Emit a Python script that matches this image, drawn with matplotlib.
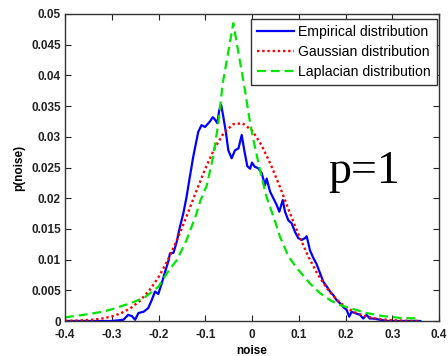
import matplotlib
matplotlib.use("Agg")
import matplotlib.pyplot as plt
import numpy as np

# Empirical noise distribution (histogram trace)
emp_x = [-0.40, -0.30, -0.275, -0.265, -0.257, -0.250, -0.243, -0.232, -0.222,
         -0.2145, -0.2075, -0.2004, -0.1932, -0.186, -0.179, -0.1755, -0.168,
         -0.161, -0.154, -0.147, -0.140, -0.134, -0.1256, -0.115, -0.108,
         -0.1005, -0.090, -0.084, -0.079, -0.074, -0.070, -0.066, -0.0614,
         -0.0556, -0.0507, -0.0435, -0.0364, -0.029, -0.022, -0.017, -0.010,
         -0.004, 0.000, 0.006, 0.013, 0.0207, 0.0278, 0.0314, 0.0385, 0.0456,
         0.0528, 0.0584, 0.0657, 0.0706, 0.0777, 0.0849, 0.092, 0.099, 0.1063,
         0.1134, 0.117, 0.124, 0.131, 0.138, 0.1455, 0.1525, 0.160, 0.167,
         0.174, 0.181, 0.188, 0.195, 0.2026, 0.208, 0.213, 0.220, 0.231, 0.238,
         0.245, 0.252, 0.259, 0.274, 0.29, 0.36]
emp_p = [0.0, 0.0, 0.0002, 0.0010, 0.0008, 0.0002, 0.0013, 0.0015, 0.0021,
         0.0034, 0.0048, 0.0044, 0.0061, 0.0080, 0.0097, 0.0110, 0.0111,
         0.0129, 0.0154, 0.0175, 0.0202, 0.0230, 0.0268, 0.0308, 0.0319,
         0.0316, 0.0325, 0.0332, 0.0328, 0.0322, 0.0344, 0.0352, 0.0333,
         0.0306, 0.0278, 0.0265, 0.0278, 0.0281, 0.0303, 0.0280, 0.0252,
         0.0248, 0.0258, 0.0251, 0.0249, 0.0241, 0.0221, 0.0232, 0.0211, 0.0200,
         0.0189, 0.0178, 0.0197, 0.0178, 0.0164, 0.0159, 0.0145, 0.0135, 0.0132,
         0.0135, 0.0138, 0.0115, 0.0103, 0.0093, 0.0078, 0.0064, 0.0056, 0.0048,
         0.0042, 0.0034, 0.0029, 0.0023, 0.0018, 0.0007, 0.0015, 0.0013, 0.0010, 0.0004,
         0.0010, 0.0004, 0.0004, 0.0002, 0.0, 0.0]

# Fitted Gaussian
gauss_x = [-0.40, -0.38, -0.36, -0.34, -0.32, -0.30, -0.28, -0.26, -0.24, -0.22,
           -0.20, -0.18, -0.16, -0.14, -0.12, -0.10, -0.08, -0.06, -0.04, -0.02,
           0.00, 0.02, 0.04, 0.06, 0.08, 0.10, 0.12, 0.14, 0.16, 0.18, 0.20,
           0.22, 0.24, 0.26, 0.28, 0.30, 0.32, 0.34, 0.36]
gauss_p = [0.00003, 0.00006, 0.00012, 0.00022, 0.00042, 0.00074, 0.00127, 0.00207,
           0.00327, 0.00493, 0.00713, 0.00993, 0.01328, 0.01703, 0.02098, 0.02479,
           0.02815, 0.03067, 0.03206, 0.0322, 0.03105, 0.0287, 0.0255, 0.0218,
           0.0178, 0.0140, 0.01057, 0.00766, 0.00533, 0.00355, 0.00228, 0.0014,
           0.00083, 0.00047, 0.00026, 0.00013, 0.00007, 0.00003, 0.00002]

# Fitted Laplacian
lap_x = [-0.40, -0.36, -0.32, -0.30, -0.26, -0.23, -0.20, -0.18, -0.16, -0.14,
         -0.12, -0.11, -0.097, -0.083, -0.072, -0.063, -0.04, -0.015, -0.004,
         0.003, 0.017, 0.031, 0.046, 0.060, 0.078, 0.096, 0.103, 0.124, 0.146,
         0.167, 0.188, 0.21, 0.245, 0.28, 0.317, 0.36]
lap_p = [0.0006, 0.0010, 0.0015, 0.0019, 0.0029, 0.0038, 0.0056, 0.0080, 0.0100,
         0.0132, 0.0172, 0.0197, 0.0220, 0.0268, 0.0322, 0.0385, 0.0485, 0.0376,
         0.0322, 0.0295, 0.0246, 0.0202, 0.0170, 0.0137, 0.0105, 0.0086, 0.0080,
         0.0061, 0.0045, 0.0034, 0.0026, 0.0021, 0.0013, 0.0008, 0.0005, 0.0004]

x_ticks = [-0.4, -0.3, -0.2, -0.1, 0, 0.1, 0.2, 0.3, 0.4]
x_tick_labels = ["-0.4", "-0.3", "-0.2", "-0.1", "0", "0.1", "0.2", "0.3", "0.4"]
y_ticks = [0, 0.005, 0.01, 0.015, 0.02, 0.025, 0.03, 0.035, 0.04, 0.045, 0.05]
y_tick_labels = ["0", "0.005", "0.01", "0.015", "0.02", "0.025", "0.03",
                 "0.035", "0.04", "0.045", "0.05"]

W, H = 448, 356
fig = plt.figure(figsize=(W / 100, H / 100), dpi=100)
ax = fig.add_axes([65 / W, 1 - 321 / H, (439 - 65) / W, (321 - 14) / H])

ax.plot(emp_x, emp_p, color=(0, 0, 1), lw=1.6, label="Empirical distribution")
ax.plot(gauss_x, gauss_p, color=(1, 0, 0), lw=1.7, linestyle=(0, (1, 1.2)),
        label="Gaussian distribution")
ax.plot(lap_x, lap_p, color=(0, 0.9, 0), lw=1.6, linestyle=(0, (4, 2.2)),
        label="Laplacian distribution")

ax.set_xlim(-0.4, 0.4)
ax.set_ylim(0, 0.05)
ax.set_xticks(x_ticks)
ax.set_xticklabels(x_tick_labels)
ax.set_yticks(y_ticks)
ax.set_yticklabels(y_tick_labels)

for lab in ax.get_xticklabels() + ax.get_yticklabels():
    lab.set_fontfamily("Liberation Sans")
    lab.set_fontweight("bold")
    lab.set_fontsize(8.5)

ax.tick_params(direction="in", length=4, width=0.8, top=True, right=True,
               colors="#222222")
ax.tick_params(axis="y", pad=3)
ax.tick_params(axis="x", pad=6)
for sp in ax.spines.values():
    sp.set_color("#333333")
    sp.set_linewidth(1.0)

ax.set_xlabel("noise", fontfamily="Liberation Sans", fontweight="bold",
              fontsize=8.5, labelpad=3)
ax.set_ylabel("p(noise)", fontfamily="Liberation Sans", fontweight="bold",
              fontsize=8.5, labelpad=4)

leg = ax.legend(loc="upper left", bbox_to_anchor=(251 / W, 1 - 19 / H),
                bbox_transform=fig.transFigure, borderaxespad=0,
                fancybox=False, framealpha=1, edgecolor="#333333",
                prop={"family": "Liberation Sans", "size": 10.1},
                handlelength=2.6, handletextpad=0.3, labelspacing=0.42,
                borderpad=0.45)
leg.get_frame().set_linewidth(1.0)

fig.text(328 / W, 1 - 183 / H, "p=1", fontfamily="Liberation Serif",
         fontsize=33, ha="left", va="baseline")

fig.savefig("out.png", dpi=100)
